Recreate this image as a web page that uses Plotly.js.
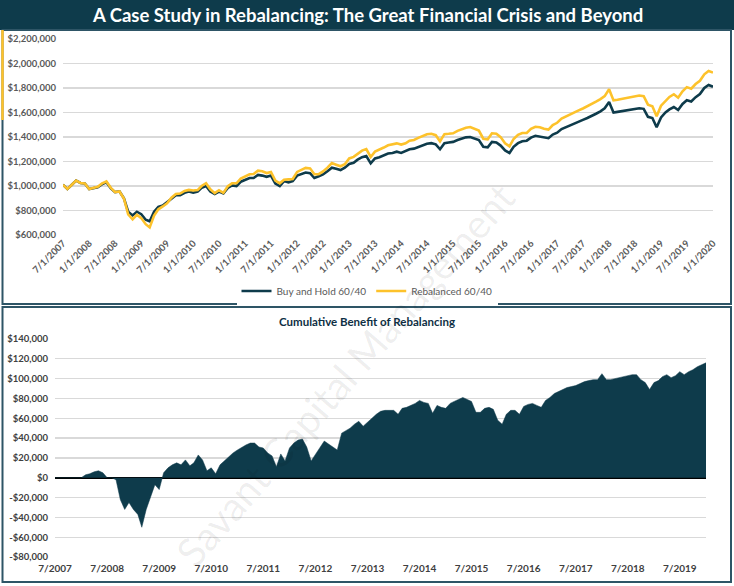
<!DOCTYPE html>
<html>
<head>
<meta charset="utf-8">
<script src="https://cdn.plot.ly/plotly-3.0.1.min.js"></script>
<style>html,body{margin:0;padding:0;background:#fff;}#chart{width:734px;height:586px;}</style>
</head>
<body>
<div id="chart"></div>
<script>
// values in thousands of dollars, monthly from 2007-07 to 2020-01
const startYear = 2007, startMonth = 7;
const buyHoldValues = [1010,975,1010,1045,1025,1020,975,985,990,1015,1030,980,950,955,900,790,760,790,770,725,712,790,830,840,870,900,925,925,945,955,945,955,985,1000,955,935,955,940,985,1005,1000,1035,1050,1065,1065,1090,1085,1075,1085,1020,1000,1040,1030,1040,1085,1100,1110,1105,1065,1080,1095,1120,1150,1140,1130,1150,1180,1190,1215,1235,1245,1185,1225,1235,1250,1265,1270,1280,1270,1285,1300,1305,1320,1335,1345,1350,1340,1300,1350,1355,1360,1375,1385,1397,1400,1385,1375,1320,1315,1360,1355,1330,1290,1270,1320,1350,1365,1370,1395,1410,1405,1395,1390,1420,1435,1465,1480,1495,1510,1525,1540,1555,1570,1590,1610,1635,1685,1600,1605,1610,1615,1620,1630,1635,1630,1565,1555,1480,1560,1600,1625,1645,1620,1670,1700,1690,1725,1750,1800,1825,1810];
const rebalancedValues = [1010,975,1010,1045,1025,1020,975,988,994,1021,1037,985,950,955,898,768,728,765,738,688,662,758,810,833,858,905,935,938,960,968,963,967,1000,1023,973,942,965,944,998,1022,1022,1060,1078,1096,1098,1125,1120,1106,1115,1045,1022,1051,1054,1057,1115,1135,1148,1144,1096,1097,1119,1150,1187,1174,1161,1178,1225,1238,1265,1289,1302,1237,1281,1295,1314,1332,1338,1348,1338,1349,1370,1376,1393,1410,1423,1426,1415,1365,1423,1426,1430,1450,1462,1476,1481,1464,1452,1386,1381,1430,1426,1399,1348,1324,1384,1418,1433,1434,1467,1484,1480,1468,1461,1498,1516,1550,1567,1584,1601,1617,1633,1650,1667,1688,1709,1734,1790,1699,1704,1710,1716,1722,1733,1739,1734,1664,1651,1569,1656,1698,1727,1749,1721,1773,1807,1794,1832,1859,1912,1939,1926];
const benefitValues = [0,0,0,0,0,0,0,3,4,6,7,5,0,0,-2,-22,-32,-25,-32,-37,-50,-32,-20,-7,-12,5,10,13,15,13,18,12,15,23,18,7,10,4,13,17,22,25,28,31,33,35,35,31,30,25,22,11,24,17,30,35,38,39,31,17,24,30,37,34,31,28,45,48,50,54,57,52,56,60,64,67,68,68,68,64,70,71,73,75,78,76,75,65,73,71,70,75,77,79,81,79,77,66,66,70,71,69,58,54,64,68,68,64,72,74,75,73,71,78,81,85,87,89,91,92,93,95,97,98,99,99,105,99,99,100,101,102,103,104,104,99,96,89,96,98,102,104,101,103,107,104,107,109,112,114,116];

const topTickDates = ['2007-07-01','2008-01-01','2008-07-01','2009-01-01','2009-07-01','2010-01-01','2010-07-01','2011-01-01','2011-07-01','2012-01-01','2012-07-01','2013-01-01','2013-07-01','2014-01-01','2014-07-01','2015-01-01','2015-07-01','2016-01-01','2016-07-01','2017-01-01','2017-07-01','2018-01-01','2018-07-01','2019-01-01','2019-07-01','2020-01-01'];
const topTickLabels = ['7/1/2007','1/1/2008','7/1/2008','1/1/2009','7/1/2009','1/1/2010','7/1/2010','1/1/2011','7/1/2011','1/1/2012','7/1/2012','1/1/2013','7/1/2013','1/1/2014','7/1/2014','1/1/2015','7/1/2015','1/1/2016','7/1/2016','1/1/2017','7/1/2017','1/1/2018','7/1/2018','1/1/2019','7/1/2019','1/1/2020'];
const bottomTickDates = ['2007-07-01','2008-07-01','2009-07-01','2010-07-01','2011-07-01','2012-07-01','2013-07-01','2014-07-01','2015-07-01','2016-07-01','2017-07-01','2018-07-01','2019-07-01'];
const bottomTickLabels = ['7/2007','7/2008','7/2009','7/2010','7/2011','7/2012','7/2013','7/2014','7/2015','7/2016','7/2017','7/2018','7/2019'];
const topYTicks = [600,800,1000,1200,1400,1600,1800,2000,2200];
const topYLabels = ['$600,000','$800,000','$1,000,000','$1,200,000','$1,400,000','$1,600,000','$1,800,000','$2,000,000','$2,200,000'];
const bottomYTicks = [-80,-60,-40,-20,0,20,40,60,80,100,120,140];
const bottomYLabels = ['-$80,000','-$60,000','-$40,000','-$20,000','$0','$20,000','$40,000','$60,000','$80,000','$100,000','$120,000','$140,000'];

const dates = buyHoldValues.map((_, i) => {
  const t = startMonth - 1 + i;
  const y = startYear + Math.floor(t / 12);
  const m = (t % 12) + 1;
  return y + '-' + String(m).padStart(2, '0') + '-01';
});

const W = 734, H = 586;
const px = v => v / W;
const py = v => 1 - v / H;
const TEAL = '#0e3b4b';
const GOLD = '#fdc22b';
const FONT = 'Lato, "Open Sans", sans-serif';

const traces = [
  {x: dates, y: buyHoldValues, type: 'scatter', mode: 'lines', name: 'Buy and Hold 60/40',
   line: {color: TEAL, width: 2.6}, xaxis: 'x', yaxis: 'y'},
  {x: dates, y: rebalancedValues, type: 'scatter', mode: 'lines', name: 'Rebalanced 60/40',
   line: {color: GOLD, width: 2.6}, xaxis: 'x', yaxis: 'y'},
  {x: dates, y: benefitValues, type: 'scatter', mode: 'lines', name: 'Cumulative Benefit',
   line: {color: TEAL, width: 0.5}, fill: 'tozeroy', fillcolor: TEAL, showlegend: false,
   xaxis: 'x2', yaxis: 'y2'}
];

const tickFont = {family: FONT, size: 9.5, color: '#595959', weight: 700};

const layout = {
  width: W, height: H,
  margin: {l: 0, r: 0, t: 0, b: 0},
  paper_bgcolor: '#ffffff', plot_bgcolor: 'rgba(0,0,0,0)',
  showlegend: true,
  legend: {orientation: 'h', x: 0.5, xanchor: 'center', y: py(291), yanchor: 'middle',
           font: {family: FONT, size: 10, color: '#595959'}, itemwidth: 30, traceorder: 'normal'},
  xaxis: {domain: [px(63), px(713)], type: 'date', range: ['2007-07-01', '2020-01-01'],
          tickmode: 'array', tickvals: topTickDates, ticktext: topTickLabels, tickangle: -45,
          showgrid: false, showline: false, zeroline: false, ticks: '', automargin: false,
          tickfont: tickFont, anchor: 'y'},
  yaxis: {domain: [py(235), py(39)], range: [600, 2200], tickmode: 'array',
          tickvals: topYTicks, ticktext: topYLabels, showgrid: true, gridcolor: '#d9d9d9', gridwidth: 1.3,
          zeroline: false, showline: false, ticks: '', ticklabelstandoff: 6, automargin: false,
          tickfont: tickFont, anchor: 'x'},
  xaxis2: {domain: [px(55), px(706)], type: 'date', range: ['2007-07-01', '2020-01-01'],
           tickmode: 'array', tickvals: bottomTickDates, ticktext: bottomTickLabels, tickangle: 0,
           showgrid: false, showline: false, zeroline: false, ticks: '', automargin: false,
           ticklabelstandoff: 4,
           tickfont: {family: FONT, size: 10, color: '#404040', weight: 700}, anchor: 'y2'},
  yaxis2: {domain: [py(557), py(339)], range: [-80, 140], tickmode: 'array',
           tickvals: bottomYTicks, ticktext: bottomYLabels, showgrid: true, gridcolor: '#d9d9d9', gridwidth: 1.3,
           zeroline: true, zerolinecolor: '#000000', zerolinewidth: 2, showline: false, ticks: '',
           ticklabelstandoff: 6, automargin: false,
           tickfont: {family: FONT, size: 9.5, color: '#404040', weight: 700}, anchor: 'x2'},
  shapes: [
    {type: 'rect', xref: 'paper', yref: 'paper', x0: 0, x1: 1, y0: py(30), y1: 1,
     fillcolor: TEAL, line: {width: 0}, layer: 'below'},
    {type: 'rect', xref: 'paper', yref: 'paper', x0: px(2.5), x1: px(731), y0: py(304), y1: py(30),
     fillcolor: 'rgba(0,0,0,0)', line: {color: '#2e5566', width: 2}},
    {type: 'rect', xref: 'paper', yref: 'paper', x0: px(2.5), x1: px(731), y0: py(582), y1: py(307),
     fillcolor: 'rgba(0,0,0,0)', line: {color: '#2e5566', width: 2}},
    {type: 'line', xref: 'paper', yref: 'paper', x0: px(2.5), x1: px(2.5), y0: py(120), y1: py(30),
     line: {color: GOLD, width: 2.5}}
  ],
  annotations: [
    {text: 'A Case Study in Rebalancing: The Great Financial Crisis and Beyond',
     xref: 'paper', yref: 'paper', x: 0.5, y: py(15), xanchor: 'center', yanchor: 'middle',
     showarrow: false, font: {family: FONT, size: 18.5, color: '#ffffff', weight: 700}},
    {text: 'Cumulative Benefit of Rebalancing',
     xref: 'paper', yref: 'paper', x: px(367), y: py(321), xanchor: 'center', yanchor: 'middle',
     showarrow: false, font: {family: FONT, size: 11.5, color: '#0e2f44', weight: 700}},
    {text: 'Savant Capital Management',
     xref: 'paper', yref: 'paper', x: px(345), y: py(375), xanchor: 'center', yanchor: 'middle',
     showarrow: false, textangle: -49, font: {family: FONT, size: 40, color: 'rgba(0,0,0,0.07)'}}
  ]
};

Plotly.newPlot('chart', traces, layout, {displayModeBar: false, staticPlot: true});
</script>
</body>
</html>
